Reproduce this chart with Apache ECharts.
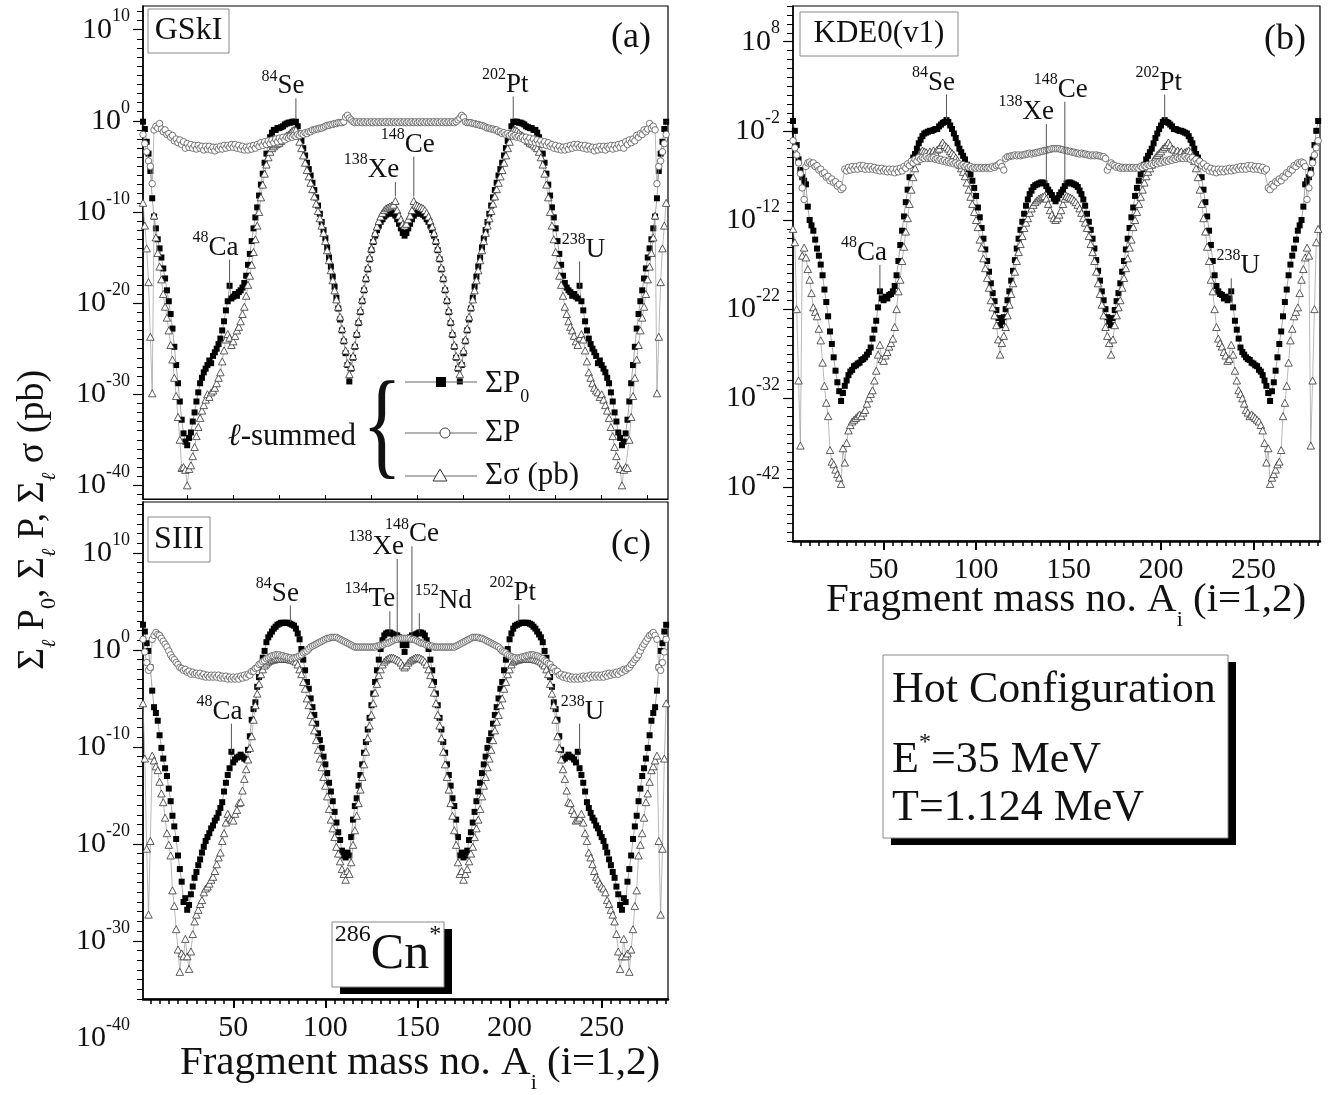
<!DOCTYPE html>
<html>
<head>
<meta charset="utf-8">
<script src="https://cdn.jsdelivr.net/npm/echarts@6/dist/echarts.min.js"></script>
<style>
html, body { margin: 0; padding: 0; background: #fff; }
#chart { width: 1338px; height: 1095px; }
</style>
</head>
<body>
<div id="chart"></div>
<script>
var SERIF = '"Liberation Serif", "Times New Roman", serif';

// log10 of the plotted quantity for the light fragment A1 = 1..143.
// The heavy partner A2 = 286 - A1 is the same split, so it carries the same value.
// (a) GSkI
var aP0 = [
  -0.1, -0.9, -2.3, -3.6, -5.5, -8.5, -10.5, -11.8, -13.0, -14.0,
  -15.0, -16.2, -17.3, -18.6, -19.8, -21.2, -22.8, -24.8, -26.8, -28.8,
  -30.8, -32.8, -34.3, -35.2, -35.6, -34.8, -34.2, -33.0, -32.0, -30.8,
  -29.8, -28.8, -28.2, -27.6, -27.2, -26.8, -26.3, -26.6, -25.8, -25.4,
  -25.0, -24.5, -23.9, -23.0, -22.0, -20.8, -19.8, -18.1, -19.5, -19.3,
  -19.0, -19.2, -18.8, -18.6, -18.3, -17.8, -17.0, -15.8, -14.6, -13.2,
  -11.8, -10.6, -9.5, -8.2, -7.0, -5.8, -4.6, -3.6, -2.6, -1.8,
  -1.3, -1.0, -1.0, -0.8, -0.8, -0.7, -0.6, -0.4, -0.3, -0.2,
  -0.2, -0.1, -0.1, -0.1, -0.6, -1.4, -2.2, -3.0, -3.8, -4.6,
  -5.3, -6.0, -6.8, -7.6, -8.4, -9.3, -10.2, -11.1, -12.0, -12.9,
  -13.9, -15.0, -16.0, -17.1, -18.2, -19.4, -20.6, -21.8, -23.0, -24.2,
  -25.5, -26.8, -28.6, -27.2, -26.0, -24.8, -23.5, -22.2, -21.0, -19.8,
  -18.6, -17.4, -16.3, -15.2, -14.2, -13.3, -12.6, -12.0, -11.5, -11.1,
  -10.8, -10.5, -10.3, -10.2, -10.1, -10.1, -10.2, -10.4, -10.8, -11.3,
  -11.8, -12.3, -12.6
];
var aSig = [
  -9.0, -11.5, -14.0, -17.7, -23.7, -29.9, -10.4, -12.8, -14.5, -16.0,
  -17.4, -19.0, -20.4, -21.6, -23.0, -24.6, -26.2, -28.2, -30.2, -32.5,
  -35.0, -38.1, -38.0, -38.3, -40.0, -38.2, -37.8, -36.8, -35.8, -34.6,
  -33.6, -32.6, -31.8, -31.2, -30.6, -30.0, -30.3, -29.8, -29.6, -29.3,
  -28.8, -28.2, -27.6, -26.4, -25.2, -24.0, -23.4, -23.8, -24.6, -24.2,
  -23.6, -23.0, -22.6, -22.0, -21.2, -20.4, -19.2, -18.0, -17.0, -15.8,
  -14.4, -13.0, -11.5, -10.0, -8.4, -7.0, -5.8, -4.8, -4.0, -3.4,
  -3.0, -2.8, -2.6, -2.5, -2.4, -2.2, -2.0, -1.8, -1.6, -1.5,
  -1.3, -1.1, -1.0, -1.0, -1.6, -2.3, -3.0, -3.8, -4.6, -5.4,
  -6.1, -6.8, -7.5, -8.3, -9.1, -9.9, -10.7, -11.5, -12.3, -13.2,
  -14.2, -15.3, -16.4, -17.5, -18.6, -19.6, -20.4, -21.5, -22.8, -24.0,
  -25.2, -26.6, -27.8, -27.0, -25.8, -24.6, -23.3, -22.0, -20.8, -19.6,
  -18.4, -17.2, -16.1, -15.0, -14.0, -13.1, -12.3, -11.6, -11.0, -10.5,
  -10.1, -9.8, -9.6, -9.5, -9.4, -9.3, -9.2, -8.8, -9.8, -10.4,
  -10.8, -11.3, -11.5
];
var aP = [
  -1.5, -2.5, -3.4, -4.4, -5.0, -6.9, -1.0, -0.6, -0.8, -0.3,
  -0.9, -1.2, -1.0, -1.5, -1.4, -1.8, -1.6, -2.2, -2.0, -2.4,
  -2.1, -2.6, -2.3, -3.0, -2.5, -2.9, -2.6, -3.0, -2.7, -3.1,
  -2.7, -3.0, -2.8, -3.2, -2.8, -3.1, -2.8, -3.2, -2.9, -3.3,
  -2.9, -3.1, -2.8, -3.1, -2.7, -3.0, -2.7, -2.9, -2.6, -2.9,
  -2.6, -3.0, -2.7, -3.1, -2.8, -3.2, -2.9, -3.2, -2.8, -3.1,
  -2.7, -3.0, -2.6, -2.8, -2.4, -2.7, -2.3, -2.6, -2.2, -2.5,
  -2.1, -2.4, -2.0, -2.3, -1.9, -2.2, -1.8, -2.1, -1.8, -1.9,
  -1.7, -1.8, -1.6, -1.7, -1.5, -1.6, -1.4, -1.5, -1.3, -1.4,
  -1.2, -1.2, -1.0, -1.0, -0.9, -0.9, -0.8, -0.8, -0.7, -0.6,
  -0.5, -0.5, -0.4, -0.4, -0.3, -0.3, -0.2, -0.2, -0.2, -0.1,
  0.4, 0.6, 0.3, 0.1, -0.1, -0.2, -0.1, -0.2, -0.1, -0.2,
  -0.1, -0.2, -0.1, -0.2, -0.1, -0.2, -0.1, -0.2, -0.1, -0.2,
  -0.1, -0.2, -0.1, -0.2, -0.1, -0.2, -0.1, -0.2, -0.1, -0.2,
  -0.1, -0.2, -0.1
];
// (b) KDE0(v1)
var bP0 = [
  -0.9, -2.0, -3.6, -5.2, -6.4, -7.2, -7.6, -8.0, -10.5, -12.0,
  -12.6, -13.2, -14.2, -15.2, -16.0, -17.0, -18.2, -19.8, -21.2, -22.8,
  -24.5, -25.9, -27.4, -28.9, -30.2, -31.2, -32.3, -31.4, -30.6, -30.0,
  -29.4, -29.0, -28.8, -28.4, -28.3, -28.1, -28.0, -27.7, -27.6, -27.4,
  -27.1, -26.8, -26.3, -25.3, -24.3, -23.3, -21.8, -20.0, -20.8, -21.0,
  -20.6, -20.8, -20.4, -20.3, -20.0, -19.4, -18.2, -16.6, -14.8, -13.2,
  -11.6, -10.0, -8.6, -7.2, -5.8, -5.0, -4.6, -4.0, -3.4, -3.0,
  -2.6, -2.3, -2.2, -2.1, -2.0, -2.0, -1.9, -1.8, -1.8, -1.5,
  -1.3, -1.1, -1.0, -0.8, -1.0, -1.4, -1.8, -2.3, -2.8, -3.4,
  -4.0, -4.4, -4.8, -5.2, -5.8, -6.3, -6.9, -7.6, -8.4, -9.3,
  -10.6, -11.7, -12.9, -14.1, -15.3, -16.6, -17.8, -19.1, -20.2, -21.1,
  -22.1, -23.0, -23.8, -23.4, -22.9, -22.0, -21.0, -20.0, -18.8, -17.7,
  -16.5, -15.2, -14.1, -13.1, -12.2, -11.3, -10.4, -9.7, -9.1, -8.7,
  -8.3, -8.1, -8.0, -7.9, -7.8, -7.8, -7.9, -8.2, -8.6, -8.9,
  -9.2, -9.6, -9.9
];
var bSig = [
  -13.0, -14.5, -22.0, -30.0, -37.3, -16.0, -15.1, -16.2, -17.5, -18.7,
  -20.2, -21.8, -22.3, -22.8, -24.2, -25.5, -28.0, -30.6, -32.5, -34.0,
  -37.8, -39.1, -39.4, -40.0, -40.5, -40.9, -41.6, -37.6, -39.2, -37.0,
  -35.6, -35.0, -34.6, -34.4, -34.2, -34.0, -33.8, -34.0, -33.6, -33.3,
  -32.6, -32.0, -31.5, -31.1, -30.0, -28.9, -27.1, -26.0, -27.6, -27.8,
  -27.2, -26.8, -26.2, -25.8, -25.3, -24.0, -22.0, -20.0, -18.7, -16.6,
  -15.0, -13.3, -11.8, -10.2, -8.6, -7.2, -6.2, -5.4, -4.8, -4.4,
  -4.2, -4.3, -4.4, -4.6, -4.3, -4.5, -4.2, -4.4, -4.1, -4.0,
  -3.6, -3.3, -3.6, -3.8, -4.0, -4.3, -4.5, -4.7, -5.0, -5.3,
  -5.8, -6.2, -6.6, -7.1, -7.8, -8.6, -9.4, -10.2, -11.1, -12.0,
  -12.8, -14.2, -15.1, -16.3, -17.4, -18.5, -19.6, -21.0, -21.8, -22.7,
  -23.8, -25.4, -27.1, -25.8, -25.0, -24.0, -22.7, -21.5, -20.3, -19.1,
  -17.8, -16.6, -15.6, -14.7, -13.8, -12.9, -12.3, -11.8, -11.2, -10.7,
  -10.3, -10.0, -9.8, -9.6, -9.5, -9.4, -9.3, -9.6, -10.2, -10.9,
  -11.4, -11.8, -12.0
];
var bP = [
  -3.1, -3.9, -4.7, -5.6, -6.8, -8.4, -9.7, -6.0, -5.6, -5.5,
  -5.7, -5.6, -6.0, -5.9, -6.4, -6.3, -6.8, -6.7, -7.2, -7.1,
  -7.6, -7.4, -7.8, -7.7, -8.2, -8.0, -8.6, -8.4, -6.3, -6.5,
  -6.1, -6.4, -6.0, -6.3, -6.0, -6.3, -5.9, -6.2, -5.9, -6.3,
  -6.0, -6.3, -6.0, -6.3, -6.1, -6.4, -6.2, -6.5, -6.2, -6.5,
  -6.3, -6.6, -6.3, -6.6, -6.3, -6.7, -6.3, -6.6, -6.2, -6.5,
  -6.0, -6.2, -5.7, -5.9, -5.4, -5.6, -5.2, -5.4, -5.0, -5.2,
  -5.0, -5.1, -4.9, -5.1, -5.0, -5.1, -5.0, -5.2, -5.1, -5.3,
  -5.2, -5.4, -5.3, -5.5, -5.4, -5.6, -5.5, -5.7, -5.6, -5.8,
  -5.7, -5.9, -5.8, -6.0, -5.9, -6.1, -6.0, -6.2, -6.1, -6.2,
  -6.1, -6.2, -6.1, -6.2, -6.1, -6.2, -6.1, -6.2, -6.0, -6.1,
  -5.9, -5.8, -5.6, -6.0, -6.4, -5.1, -4.9, -4.9, -4.8, -4.8,
  -4.7, -4.8, -4.7, -4.8, -4.7, -4.7, -4.6, -4.6, -4.5, -4.6,
  -4.5, -4.5, -4.4, -4.4, -4.3, -4.3, -4.2, -4.2, -4.1, -4.1,
  -4.0, -4.0, -4.0
];
// (c) SIII
var cP0 = [
  2.6, 1.9, 0.7, -0.1, -1.8, -4.2, -5.9, -6.5, -7.3, -8.8,
  -10.1, -11.2, -12.2, -13.0, -14.3, -15.6, -17.1, -18.2, -19.5, -21.2,
  -22.6, -23.9, -26.0, -25.6, -26.8, -26.3, -25.2, -24.4, -23.5, -22.9,
  -22.2, -21.6, -20.9, -20.3, -19.7, -19.3, -18.9, -18.4, -18.1, -17.6,
  -17.3, -16.8, -16.3, -15.7, -14.6, -13.7, -12.9, -12.2, -10.5, -11.6,
  -11.3, -11.1, -11.0, -10.8, -11.0, -11.2, -11.3, -10.3, -8.9, -7.2,
  -6.1, -5.4, -3.8, -2.8, -1.8, -0.8, -0.1, 0.8, 1.3, 1.6,
  1.9, 2.2, 2.4, 2.6, 2.7, 2.8, 2.8, 2.8, 2.8, 2.8,
  2.7, 2.6, 2.5, 2.2, 1.7, 1.1, 0.1, -1.0, -2.1, -3.3,
  -4.0, -5.0, -5.9, -6.7, -7.6, -8.6, -9.3, -10.1, -11.0, -11.8,
  -12.7, -13.7, -14.6, -15.6, -16.7, -17.8, -18.8, -19.6, -20.7, -21.2,
  -21.4, -20.9, -21.2, -19.3, -17.5, -16.1, -15.3, -14.0, -12.9, -11.8,
  -10.6, -9.5, -8.2, -7.0, -5.7, -4.5, -3.3, -2.1, -1.0, 0.1,
  1.0, 1.5, 1.7, 1.8, 1.8, 1.7, 1.6, 1.5, 1.5, 1.3,
  1.1, 0.5, -0.2
];
var cSig = [
  -5.5, -11.2, -20.5, -27.3, -19.7, -10.9, -11.4, -12.0, -12.4, -13.6,
  -14.8, -15.7, -17.3, -18.9, -20.1, -21.2, -24.8, -26.4, -28.8, -30.9,
  -33.2, -31.3, -31.6, -29.8, -31.6, -32.9, -31.1, -29.3, -28.0, -27.3,
  -26.8, -26.2, -25.8, -25.0, -24.6, -24.4, -24.1, -23.7, -23.4, -22.8,
  -22.1, -21.4, -20.9, -19.7, -18.9, -17.8, -16.9, -17.3, -17.5, -17.6,
  -16.9, -16.5, -15.8, -15.7, -14.5, -13.3, -12.3, -11.3, -10.1, -8.9,
  -7.2, -5.7, -4.5, -3.5, -2.5, -2.0, -1.6, -1.4, -1.2, -1.1,
  -1.0, -1.0, -0.9, -0.9, -0.9, -0.9, -0.9, -0.9, -0.9, -0.9,
  -1.0, -1.0, -1.1, -1.2, -1.5, -2.0, -2.5, -3.3, -4.0, -5.0,
  -5.7, -6.7, -7.4, -8.3, -9.3, -10.3, -11.2, -12.1, -13.1, -14.0,
  -15.1, -16.4, -17.5, -18.4, -19.3, -20.3, -21.0, -21.8, -22.6, -23.1,
  -23.7, -22.8, -23.1, -21.9, -20.1, -18.6, -17.1, -15.8, -14.4, -13.1,
  -11.8, -10.5, -9.1, -7.8, -6.7, -5.5, -4.4, -3.5, -2.6, -2.0,
  -1.5, -1.2, -1.0, -0.9, -0.8, -0.8, -0.8, -0.9, -1.0, -1.1,
  -1.3, -1.6, -1.8
];
var cP = [
  1.1, -0.2, -1.3, -2.1, -1.8, 1.1, 1.5, 1.8, 1.6, 1.5,
  1.2, 0.9, 0.6, 0.3, -0.1, -0.5, -0.8, -1.0, -1.3, -1.5,
  -1.8, -1.9, -2.1, -2.0, -2.3, -2.2, -2.5, -2.3, -2.5, -2.4,
  -2.6, -2.4, -2.7, -2.5, -2.8, -2.6, -2.8, -2.6, -2.8, -2.6,
  -2.8, -2.6, -2.9, -2.7, -2.9, -2.7, -3.0, -2.8, -3.0, -2.8,
  -3.0, -2.8, -3.0, -2.7, -2.9, -2.6, -2.8, -2.5, -2.6, -2.2,
  -2.2, -1.9, -1.8, -1.5, -1.4, -1.2, -1.1, -0.9, -0.8, -0.7,
  -0.6, -0.6, -0.5, -0.5, -0.5, -0.6, -0.6, -0.7, -0.7, -0.8,
  -0.8, -0.9, -0.8, -0.8, -0.7, -0.6, -0.5, -0.3, -0.2, -0.1,
  0.1, 0.3, 0.4, 0.5, 0.6, 0.7, 0.8, 0.9, 1.0, 1.1,
  1.2, 1.2, 1.3, 1.3, 1.3, 1.3, 1.2, 1.1, 1.0, 0.9,
  0.8, 0.7, 0.6, 0.5, 0.4, 0.3, 0.3, 0.3, 0.3, 0.3,
  0.3, 0.3, 0.3, 0.3, 0.3, 0.3, 0.3, 0.4, 0.4, 0.5,
  0.5, 0.6, 0.7, 0.7, 0.8, 0.9, 1.0, 1.1, 1.1, 1.2,
  1.2, 1.2, 1.2
];

var xMajor = [50, 100, 150, 200, 250];
var xMinor = [5, 10, 15, 20, 25, 30, 35, 40, 45, 55, 60, 65, 70, 75, 80, 85, 90, 95,
  105, 110, 115, 120, 125, 130, 135, 140, 145, 155, 160, 165, 170, 175, 180, 185, 190, 195,
  205, 210, 215, 220, 225, 230, 235, 240, 245, 255, 260, 265, 270, 275, 280, 285];
var xInnerA = [25, 50, 75, 100, 125, 150, 175, 200, 225, 250, 275];

// nuclide markers: panel, A of the pointer, mass label, symbol, pointer bottom and text baseline (log10), text shift px
var marks = [
  [0, 84, '84', 'Se', 0.3, 2.8, -13], [0, 202, '202', 'Pt', 0.3, 3.0, -8],
  [0, 138, '138', 'Xe', -8.3, -6.4, -24], [0, 148, '148', 'Ce', -8.3, -3.6, -6],
  [0, 48, '48', 'Ca', -18.3, -14.9, -14], [0, 238, '238', 'U', -18.3, -15.1, 4],
  [1, 84, '84', 'Se', -0.7, 2.4, -13], [1, 202, '202', 'Pt', -0.7, 2.4, -6],
  [1, 138, '138', 'Xe', -7.9, -0.9, -20], [1, 148, '148', 'Ce', -7.9, 1.6, -4],
  [1, 48, '48', 'Ca', -20.0, -16.7, -16], [1, 238, '238', 'U', -21.3, -18.2, 7],
  [2, 81, '84', 'Se', 2.9, 4.9, -13], [2, 135, '134', 'Te', 1.8, 4.3, -20],
  [2, 139, '138', 'Xe', 1.4, 9.7, -21], [2, 147, '148', 'Ce', 1.4, 11.0, 0],
  [2, 151, '152', 'Nd', 1.8, 4.1, 24], [2, 205, '202', 'Pt', 2.9, 5.0, -6],
  [2, 49, '48', 'Ca', -10.5, -7.3, -12], [2, 238, '238', 'U', -10.5, -7.3, 3]
];

function fullRange(light) {
  var pts = [];
  for (var a = 1; a <= 285; a++) {
    var a1 = a <= 143 ? a : 286 - a;
    pts.push([a, light[a1 - 1]]);
  }
  return pts;
}

function intsBetween(lo, hi) {
  var out = [];
  for (var v = Math.ceil(lo); v <= Math.floor(hi); v++) out.push(v);
  return out;
}

var panels = [
  { box: [143, 6, 525, 493], y: [-41.5, 12.6], major: [-40, -30, -20, -10, 0, 10], data: [aP0, aSig, aP], xText: false },
  { box: [793, 6, 527, 535], y: [-48, 12], major: [-42, -32, -22, -12, -2, 8], data: [bP0, bSig, bP], xText: true },
  { box: [143, 502, 525, 497], y: [-36, 15.26], major: [-30, -20, -10, 0, 10], data: [cP0, cSig, cP], xText: true }
];

var looks = [
  { symbol: 'rect', symbolSize: 6, itemStyle: { color: '#000' }, lineStyle: { color: '#808080', width: 0.7 } },
  { symbol: 'triangle', symbolSize: [7.5, 7], itemStyle: { color: '#fff', borderColor: '#333', borderWidth: 0.8 }, lineStyle: { color: '#9a9a9a', width: 0.7 } },
  { symbol: 'circle', symbolSize: 6.5, itemStyle: { color: '#fff', borderColor: '#555', borderWidth: 0.8 }, lineStyle: { color: '#9a9a9a', width: 0.7 } }
];

var tickRich = {
  b: { fontFamily: SERIF, fontSize: 30, lineHeight: 44, color: '#111' },
  s: { fontFamily: SERIF, fontSize: 18, verticalAlign: 'top', color: '#111' }
};

var grids = [], xAxes = [], yAxes = [], series = [];
panels.forEach(function (p, i) {
  grids.push({
    left: p.box[0], top: p.box[1], width: p.box[2], height: p.box[3],
    show: true, borderColor: '#000', borderWidth: 1.2, backgroundColor: 'transparent'
  });
  xAxes.push({
    type: 'value', gridIndex: i, min: 1, max: 286, position: 'bottom',
    axisLine: { show: true, onZero: false, lineStyle: { color: '#000', width: p.xText ? 2.5 : 1.2 } },
    axisTick: p.xText
      ? { show: true, inside: false, length: 9, customValues: xMajor, lineStyle: { color: '#000', width: 2 } }
      : { show: true, inside: true, length: 4, customValues: xInnerA, lineStyle: { color: '#000', width: 1 } },
    axisLabel: p.xText
      ? { show: true, customValues: xMajor, fontFamily: SERIF, fontSize: 30, color: '#111', margin: 14 }
      : { show: false },
    splitLine: { show: false }
  });
  xAxes.push({
    type: 'value', gridIndex: i, min: 1, max: 286, position: 'bottom',
    axisLine: { show: false, onZero: false },
    axisTick: { show: p.xText, inside: false, length: 5, customValues: xMinor, lineStyle: { color: '#000', width: 1.5 } },
    axisLabel: { show: false },
    splitLine: { show: false }
  });
  yAxes.push({
    type: 'value', gridIndex: i, min: p.y[0], max: p.y[1], position: 'left',
    axisLine: { show: true, onZero: false, lineStyle: { color: '#000', width: 1.5 } },
    axisTick: { show: true, inside: false, length: 10, customValues: p.major, lineStyle: { color: '#000', width: 1.2 } },
    axisLabel: {
      show: true, customValues: p.major, margin: 13,
      formatter: function (v) { return '{b|10}{s|' + Math.round(v) + '}'; },
      rich: tickRich
    },
    splitLine: { show: false }
  });
  yAxes.push({
    type: 'value', gridIndex: i, min: p.y[0], max: p.y[1], position: 'left',
    axisLine: { show: false, onZero: false },
    axisTick: { show: true, inside: false, length: 6, customValues: intsBetween(p.y[0], p.y[1]), lineStyle: { color: '#000', width: 1 } },
    axisLabel: { show: false },
    splitLine: { show: false }
  });
  p.data.forEach(function (arr, k) {
    var lk = looks[k];
    series.push({
      type: 'line', xAxisIndex: 2 * i, yAxisIndex: 2 * i,
      data: fullRange(arr),
      symbol: lk.symbol, symbolSize: lk.symbolSize, showSymbol: true,
      itemStyle: lk.itemStyle, lineStyle: lk.lineStyle,
      silent: true, animation: false, z: 2 + k
    });
  });
});

var chart = echarts.init(document.getElementById('chart'));
chart.setOption({
  animation: false,
  backgroundColor: '#fff',
  grid: grids,
  xAxis: xAxes,
  yAxis: yAxes,
  series: series
});

function txt(x, y, text, size, opts) {
  opts = opts || {};
  return {
    type: 'text', x: x, y: y, silent: true, z: 50,
    rotation: opts.rotation || 0, scaleX: opts.scaleX || 1,
    style: {
      text: text, fontFamily: SERIF, fontSize: size, fill: '#111',
      fontStyle: opts.italic ? 'italic' : 'normal',
      align: opts.align || 'center', textAlign: opts.align || 'center',
      verticalAlign: opts.va || 'middle', textVerticalAlign: opts.va || 'middle',
      rich: opts.rich
    }
  };
}
function box(x, y, w, h, shadow) {
  var out = [];
  if (shadow) {
    out.push({ type: 'rect', silent: true, z: 40, shape: { x: x + 8, y: y + 7, width: w, height: h }, style: { fill: '#000' } });
  }
  out.push({ type: 'rect', silent: true, z: 41, shape: { x: x, y: y, width: w, height: h }, style: { fill: '#fff', stroke: '#888', lineWidth: 1 } });
  return out;
}

var markRich = {
  s: { fontFamily: SERIF, fontSize: 16, verticalAlign: 'top', fill: '#111' },
  b: { fontFamily: SERIF, fontSize: 27, lineHeight: 36, fill: '#111' }
};
var subRich = {
  t: { fontFamily: SERIF, fontSize: 31, lineHeight: 44, fill: '#111' },
  z: { fontFamily: SERIF, fontSize: 18, verticalAlign: 'bottom', fill: '#111' }
};

var g = [];
marks.forEach(function (m) {
  var s = 3 * m[0];
  var p0 = chart.convertToPixel({ seriesIndex: s }, [m[1], m[4]]);
  var p1 = chart.convertToPixel({ seriesIndex: s }, [m[1], m[5]]);
  g.push({ type: 'line', silent: true, z: 45, shape: { x1: p0[0], y1: p0[1], x2: p1[0], y2: p1[1] + 3 }, style: { stroke: '#555', lineWidth: 1 } });
  g.push(txt(p1[0] + m[6], p1[1] + 9, '{s|' + m[2] + '}{b|' + m[3] + '}', 27, { va: 'bottom', rich: markRich }));
});

// the lowest decade label of panel (c) sits below its axis end
var pc = chart.convertToPixel({ seriesIndex: 6 }, [1, -40]);
g.push(txt(130, pc[1], '{b|10}{s|-40}', 30, { align: 'right', rich: {
  b: { fontFamily: SERIF, fontSize: 30, lineHeight: 44, fill: '#111' },
  s: { fontFamily: SERIF, fontSize: 18, verticalAlign: 'top', fill: '#111' } } }));

// panel tags
g = g.concat(box(148, 9, 81, 44));
g.push(txt(188.5, 31, 'GSkI', 32));
g.push(txt(631, 38, '(a)', 36));
g = g.concat(box(800, 12, 158, 44));
g.push(txt(879, 34, 'KDE0(v1)', 31));
g.push(txt(1285, 40, '(b)', 36));
g = g.concat(box(148, 517, 62, 45));
g.push(txt(179, 540, 'SIII', 32));
g.push(txt(631, 545, '(c)', 36));

// legend of panel (a)
var legY = [382, 433, 476];
legY.forEach(function (y) {
  g.push({ type: 'line', silent: true, z: 45, shape: { x1: 405, y1: y, x2: 477, y2: y }, style: { stroke: '#666', lineWidth: 1 } });
});
g.push({ type: 'rect', silent: true, z: 46, shape: { x: 436, y: legY[0] - 5, width: 10, height: 10 }, style: { fill: '#000' } });
g.push({ type: 'circle', silent: true, z: 46, shape: { cx: 445, cy: legY[1], r: 5 }, style: { fill: '#fff', stroke: '#444', lineWidth: 1 } });
g.push({ type: 'polygon', silent: true, z: 46, shape: { points: [[440, legY[2] - 7], [433, legY[2] + 5], [447, legY[2] + 5]] }, style: { fill: '#fff', stroke: '#333', lineWidth: 1 } });
g.push(txt(485, legY[0] + 2, '{t|ΣP}{z|0}', 31, { align: 'left', rich: subRich }));
g.push(txt(485, legY[1], 'ΣP', 31, { align: 'left' }));
g.push(txt(485, legY[2], 'Σσ (pb)', 31, { align: 'left' }));
g.push(txt(382, 432, '{', 118, { scaleX: 0.7 }));
g.push(txt(356, 437, '{l|ℓ}{t|-summed}', 31, { align: 'right', rich: {
  l: { fontFamily: SERIF, fontSize: 31, fontStyle: 'italic', fill: '#111' },
  t: { fontFamily: SERIF, fontSize: 31, fill: '#111' } } }));

// shared y title
g.push(txt(33, 520, '{t|Σ}{l|ℓ}{t| P}{z|0}{t|, Σ}{l|ℓ}{t| P, Σ}{l|ℓ}{t| σ (pb)}', 38, {
  rotation: Math.PI / 2,
  rich: {
    t: { fontFamily: SERIF, fontSize: 38, lineHeight: 54, fill: '#111' },
    l: { fontFamily: SERIF, fontSize: 20, fontStyle: 'italic', verticalAlign: 'bottom', fill: '#111' },
    z: { fontFamily: SERIF, fontSize: 22, verticalAlign: 'bottom', fill: '#111' }
  }
}));

// x titles
var xTitleRich = {
  t: { fontFamily: SERIF, fontSize: 41, lineHeight: 62, fill: '#111' },
  i: { fontFamily: SERIF, fontSize: 22, verticalAlign: 'bottom', fill: '#111' }
};
g.push(txt(420, 1063, '{t|Fragment mass no. A}{i|i}{t| (i=1,2)}', 41, { rich: xTitleRich }));
g.push(txt(1066, 600, '{t|Fragment mass no. A}{i|i}{t| (i=1,2)}', 41, { rich: xTitleRich }));

// configuration box
g = g.concat(box(883, 655, 345, 183, true));
g.push(txt(892, 690, 'Hot Configuration', 44, { align: 'left' }));
g.push(txt(892, 760, '{t|E}{s|*}{t|=35 MeV}', 44, { align: 'left', rich: {
  t: { fontFamily: SERIF, fontSize: 44, lineHeight: 58, fill: '#111' },
  s: { fontFamily: SERIF, fontSize: 24, verticalAlign: 'top', fill: '#111' } } }));
g.push(txt(892, 808, 'T=1.124 MeV', 44, { align: 'left' }));

// compound nucleus box
g = g.concat(box(332, 922, 112, 65, true));
g.push(txt(388, 955, '{s|286}{b|Cn}{s|*}', 50, { rich: {
  b: { fontFamily: SERIF, fontSize: 50, lineHeight: 64, fill: '#111' },
  s: { fontFamily: SERIF, fontSize: 24, verticalAlign: 'top', fill: '#111' } } }));

chart.setOption({ graphic: { elements: g } });
</script>
</body>
</html>
